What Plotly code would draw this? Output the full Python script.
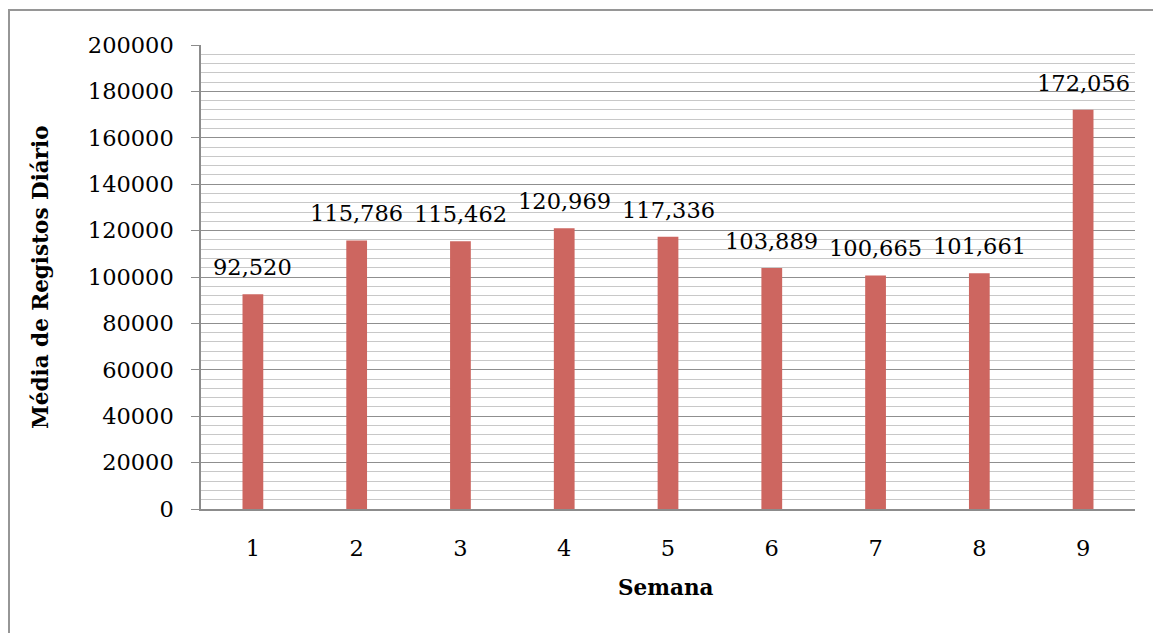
import plotly.graph_objects as go

semanas = ["1", "2", "3", "4", "5", "6", "7", "8", "9"]
media_registos = [92520, 115786, 115462, 120969, 117336, 103889, 100665, 101661, 172056]
y_tick_vals = [0, 20000, 40000, 60000, 80000, 100000, 120000, 140000, 160000, 180000, 200000]
y_title = "Média de Registos Diário"
x_title = "Semana"

FONT = "DejaVu Serif"
OFF = 8  # default page body margin
W, H = 1161 - OFF, 633 - OFF
L, R, T, B = 201 - OFF, 26, 45 - OFF, 124
pw, ph = W - L - R, H - T - B

fig = go.Figure()
fig.add_trace(go.Bar(
    x=semanas, y=media_registos,
    marker=dict(color="#CD6660", line=dict(width=0)),
    width=0.2,
    hoverinfo="x+y",
))

for i, v in enumerate(media_registos):
    fig.add_annotation(x=i, y=v, text=f"{v:,}", showarrow=False,
                       yanchor="bottom", yshift=12,
                       font=dict(family=FONT, size=22.5, color="#000"))

fig.update_layout(
    width=W, height=H,
    margin=dict(l=L, r=R, t=T, b=B, pad=0, autoexpand=False),
    paper_bgcolor="white", plot_bgcolor="white",
    showlegend=False,
    font=dict(family=FONT, size=22.5, color="#000"),
    xaxis=dict(
        type="category", showgrid=False, zeroline=False,
        range=[-0.5, 8.5],
        showline=True, linecolor="#8c8c8c", linewidth=1.5,
        ticks="", ticklabelstandoff=18,
        tickfont=dict(family=FONT, size=22.5, color="#000"),
    ),
    yaxis=dict(
        range=[0, 200000], tickvals=y_tick_vals,
        ticktext=[str(v) for v in y_tick_vals],
        showgrid=True, gridcolor="#8f8f8f", gridwidth=1.3,
        zeroline=False, showline=True, linecolor="#8c8c8c", linewidth=1.5,
        ticks="outside", ticklen=8, tickcolor="#8c8c8c", tickwidth=1.3,
        ticklabelstandoff=13,
        tickfont=dict(family=FONT, size=22.5, color="#000"),
        minor=dict(dtick=4000, showgrid=True, gridcolor="#c8c8c8", gridwidth=1.3, ticks=""),
    ),
)

# axis titles
fig.add_annotation(xref="paper", yref="paper", x=(40 - OFF - L) / pw, y=(H - B - (277 - OFF)) / ph,
                   text=f"<b>{y_title}</b>", textangle=-90, showarrow=False,
                   xanchor="center", yanchor="middle",
                   font=dict(family=FONT, size=21.5, color="#000"))
fig.add_annotation(xref="paper", yref="paper", x=(666 - OFF - L) / pw, y=-((587 - OFF) - (H - B)) / ph,
                   text=f"<b>{x_title}</b>", showarrow=False,
                   xanchor="center", yanchor="middle",
                   font=dict(family=FONT, size=21.5, color="#000"))

# chart border (left and top edges visible)
fig.add_shape(type="rect", xref="paper", yref="paper",
              x0=(1 - L) / pw, x1=(W + 20 - L) / pw,
              y0=-(H + 20 - (H - B)) / ph, y1=(H - B - 2) / ph,
              line=dict(color="#969696", width=2), fillcolor="rgba(0,0,0,0)", layer="below")

fig.write_html("out.html")
